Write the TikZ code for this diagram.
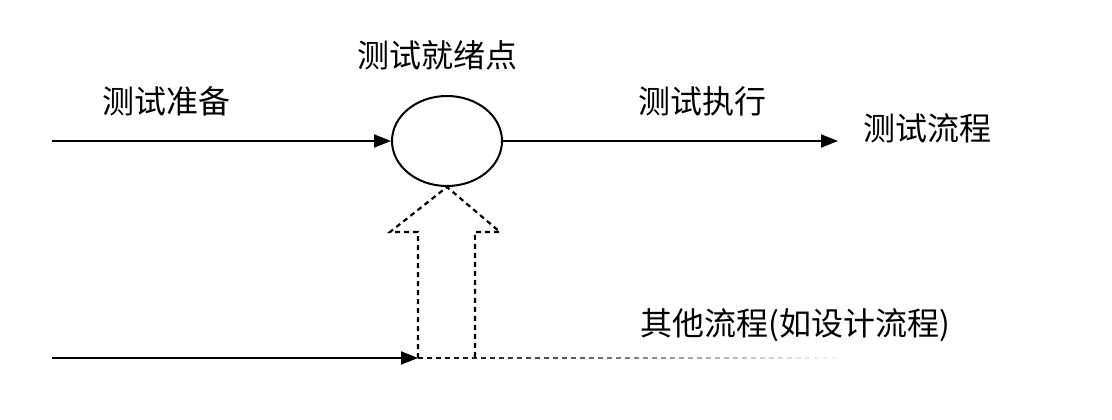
\documentclass[tikz,border=0pt]{standalone}
\usepackage{fontspec}
\setmainfont{Noto Sans CJK SC}
\usetikzlibrary{shapes.geometric, arrows.meta, fadings}

\begin{document}
\begin{tikzpicture}[x=1pt, y=-1pt,
  flow/.style={line width=2pt, -{Triangle[length=17pt, width=13pt]}},
  other/.style={line width=2.2pt, dash pattern=on 5pt off 4pt},
  lbl/.style={font=\fontsize{32}{38}\selectfont, inner sep=0pt}]
  \useasboundingbox (0,0) rectangle (1112,420);

  % Test flow
  \node[draw, ellipse, line width=2pt, minimum width=110pt, minimum height=90pt] (ready) at (447,141) {};
  \coordinate (prepStart) at (52,141);
  \coordinate (execEnd) at (838,141);
  \draw[flow] (prepStart) -- (ready.west);
  \draw[flow] (ready.east) -- (execEnd);

  \node[lbl] (prep) at (166,101) {测试准备};
  \node[lbl] (readyText) at (437,55) {测试就绪点};
  \node[lbl] (exec) at (702,101) {测试执行};
  \node[lbl] (flowText) at (927,128) {测试流程};

  % Other flow
  \coordinate (otherStart) at (52,358);
  \coordinate (otherJoin) at (418,358);
  \coordinate (otherEnd) at (845,358);
  \draw[flow] (otherStart) -- (otherJoin);
  \draw[other, path fading=east] (otherJoin) -- (otherEnd);
  \node[lbl] (otherText) at (795,325) {其他流程(如设计流程)};

  % Hollow dashed arrow into the ready point
  \draw[other] (otherJoin) -- (418,232) -- (390,232) -- (ready.south)
    -- (500,232) -- (475,232) -- (475,358);
\end{tikzpicture}
\end{document}
